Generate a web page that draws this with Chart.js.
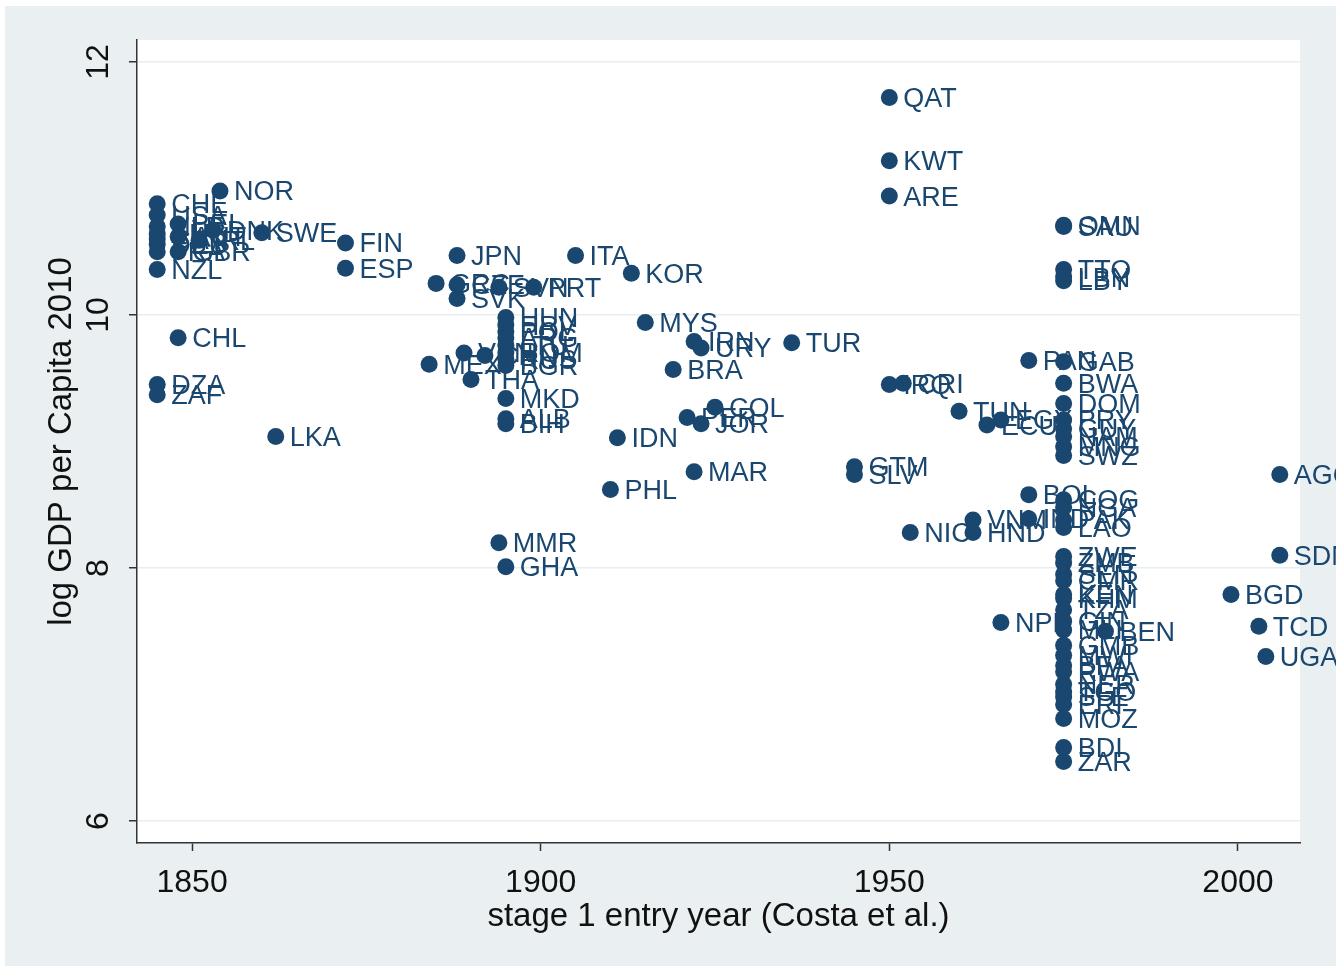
<!DOCTYPE html>
<html>
<head>
<meta charset="utf-8">
<script src="https://cdn.jsdelivr.net/npm/chart.js@4/dist/chart.umd.min.js"></script>
<style>
  html, body { margin: 0; padding: 0; background: #fff; }
  #wrap { width: 1343px; height: 970px; }
</style>
</head>
<body>
<div id="wrap"><canvas id="chart" width="1343" height="970"></canvas></div>
<script>
// country codes, stage 1 entry year, log GDP per capita 2010
const countries = [
  "CHE","USA","NLD","AUS","CAN","DEU","FRA","NZL","BEL","AUT","GBR","IRL","DNK","NOR","SWE","FIN","ESP",
  "CHL","DZA","ZAF","LKA",
  "JPN","ITA","KOR","GRC","CZE","SVN","PRT","SVK",
  "HUN","HRV","POL","ARG","LTU","ROM","RUS","BGR","VEN","CHN","MEX","THA","MKD","ALB","BIH",
  "IDN","MYS","IRN","URY","TUR","BRA","COL","PER","JOR","MAR","PHL","MMR","GHA",
  "QAT","KWT","ARE","IRQ","CRI","TUN","ECU","EGY","GTM","SLV","NIC","VNM","HND",
  "PAN","BOL","IND","NPL",
  "OMN","SAU","TTO","LBN","LBY","GAB","BWA","DOM","PRY","GUY","NAM","MNG","SWZ",
  "COG","NGA","PAK","LAO","ZWE","ZMB","SEN","CMR","KEN","KHM","TZA","GIN","MLI","BEN",
  "GMB","MWI","BFA","RWA","NER","TGO","SLE","ERI","MOZ","BDI","ZAR",
  "AGO","SDN","BGD","TCD","UGA"
];
const entryYear = [
  1845,1845,1845,1845,1845,1845,1845,1845,1848,1848,1848,1851,1853,1854,1860,1872,1872,
  1848,1845,1845,1862,
  1888,1905,1913,1885,1888,1894,1899,1888,
  1895,1895,1895,1895,1895,1895,1895,1895,1889,1892,1884,1890,1895,1895,1895,
  1911,1915,1922,1923,1936,1919,1925,1921,1923,1922,1910,1894,1895,
  1950,1950,1950,1950,1952,1960,1964,1966,1945,1945,1953,1962,1962,
  1970,1970,1970,1966,
  1975,1975,1975,1975,1975,1975,1975,1975,1975,1975,1975,1975,1975,
  1975,1975,1975,1975,1975,1975,1975,1975,1975,1975,1975,1975,1975,1981,
  1975,1975,1975,1975,1975,1975,1975,1975,1975,1975,1975,
  2006,2006,1999,2003,2004
];
const logGdp = [
  10.88,10.79,10.70,10.64,10.60,10.56,10.50,10.36,10.72,10.62,10.50,10.59,10.67,10.98,10.65,10.57,10.37,
  9.82,9.45,9.37,9.04,
  10.47,10.47,10.33,10.25,10.24,10.22,10.22,10.13,
  9.98,9.92,9.87,9.82,9.76,9.70,9.65,9.60,9.70,9.68,9.61,9.49,9.34,9.18,9.14,
  9.03,9.94,9.79,9.74,9.78,9.57,9.27,9.19,9.14,8.76,8.62,8.20,8.01,
  11.72,11.22,10.94,9.45,9.46,9.24,9.13,9.17,8.80,8.74,8.28,8.38,8.28,
  9.64,8.58,8.39,7.57,
  10.71,10.70,10.36,10.30,10.27,9.63,9.46,9.30,9.17,9.10,9.04,8.96,8.89,
  8.54,8.48,8.38,8.32,8.09,8.04,7.95,7.90,7.79,7.76,7.67,7.58,7.51,7.50,
  7.39,7.31,7.23,7.18,7.08,7.02,6.98,6.92,6.81,6.58,6.47,
  8.74,8.10,7.79,7.54,7.30
];
const xTicks = [1850, 1900, 1950, 2000];
const yTicks = [6, 8, 10, 12];

const navy = "#1a476f";
const bgGrey = "#eaf0f2";

const points = countries.map((c, i) => ({ x: entryYear[i], y: logGdp[i], label: c }));

const backdrop = {
  id: "backdrop",
  beforeDraw(chart) {
    const { ctx, chartArea: a } = chart;
    ctx.save();
    ctx.fillStyle = "#fff";
    ctx.fillRect(0, 0, chart.width, chart.height);
    ctx.fillStyle = bgGrey;
    ctx.fillRect(5, 6, 1331, 960);
    ctx.fillStyle = "#fff";
    ctx.fillRect(a.left, a.top, a.right - a.left, a.bottom - a.top);
    ctx.restore();
  },
};

const pointLabels = {
  id: "pointLabels",
  afterDatasetsDraw(chart) {
    const { ctx } = chart;
    const meta = chart.getDatasetMeta(0);
    ctx.save();
    ctx.beginPath();
    ctx.rect(5, 6, 1331, 960);
    ctx.clip();
    ctx.fillStyle = navy;
    ctx.font = "27px 'Liberation Sans', Arial, sans-serif";
    ctx.textAlign = "left";
    ctx.textBaseline = "middle";
    meta.data.forEach((pt, i) => {
      ctx.fillText(points[i].label, pt.x + 14, pt.y + 2);
    });
    ctx.restore();
  },
};

const ctx = document.getElementById("chart").getContext("2d");
new Chart(ctx, {
  type: "scatter",
  data: {
    datasets: [
      {
        data: points,
        backgroundColor: navy,
        borderWidth: 0,
        pointRadius: 8.5,
        pointHoverRadius: 8.5,
      },
    ],
  },
  options: {
    responsive: false,
    animation: false,
    clip: false,
    layout: { padding: { top: 40, right: 43, left: 0, bottom: 0 } },
    plugins: { legend: { display: false }, tooltip: { enabled: false } },
    scales: {
      x: {
        type: "linear",
        min: 1842.1,
        max: 2008.9,
        afterBuildTicks: (s) => { s.ticks = xTicks.map((v) => ({ value: v })); },
        afterFit: (s) => { s.height = 127; },
        border: { color: "#333", width: 1.5 },
        grid: { drawOnChartArea: false, tickLength: 8, tickColor: "#333", tickWidth: 1.5 },
        ticks: {
          color: "#111",
          padding: 13,
          callback: (v) => String(v),
          font: { family: "'Liberation Sans', Arial, sans-serif", size: 32 },
        },
        title: {
          display: true,
          text: "stage 1 entry year (Costa et al.)",
          color: "#111",
          padding: { top: 0, bottom: 33 },
          font: { family: "'Liberation Sans', Arial, sans-serif", size: 33 },
        },
      },
      y: {
        type: "linear",
        min: 5.826,
        max: 12.174,
        afterBuildTicks: (s) => { s.ticks = yTicks.map((v) => ({ value: v })); },
        afterFit: (s) => { s.width = 137; },
        border: { color: "#333", width: 1.5 },
        grid: { color: "#e6eef0", lineWidth: 1.5, tickLength: 8, tickColor: "#333", tickWidth: 1.5 },
        ticks: {
          color: "#111",
          minRotation: 90,
          maxRotation: 90,
          crossAlign: "center",
          padding: 12,
          font: { family: "'Liberation Sans', Arial, sans-serif", size: 32 },
        },
        title: {
          display: true,
          text: "log GDP per Capita 2010",
          color: "#111",
          padding: { top: 42, bottom: 0 },
          font: { family: "'Liberation Sans', Arial, sans-serif", size: 33 },
        },
      },
    },
  },
  plugins: [backdrop, pointLabels],
});
</script>
</body>
</html>
